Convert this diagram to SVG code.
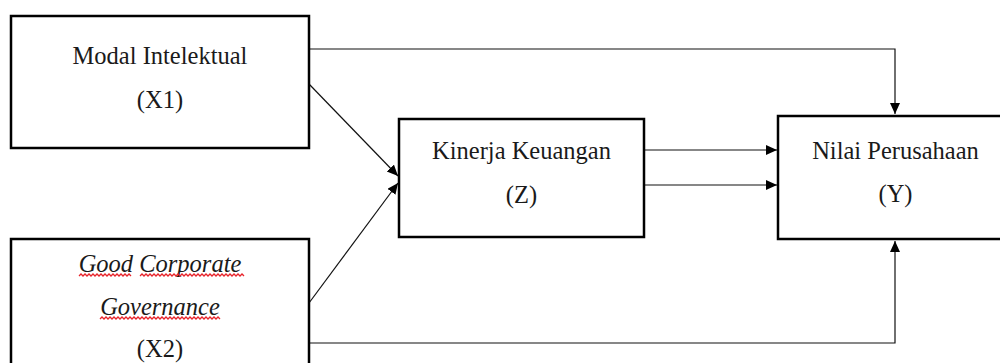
<svg xmlns="http://www.w3.org/2000/svg" width="1000" height="363" viewBox="0 0 1000 363">
<style>
.box{fill:#fff;stroke:#000;stroke-width:2.5}
.t{font-family:'Liberation Serif','Times New Roman',Times,serif;font-size:24.5px;fill:#1a1a1a;text-anchor:middle}
.i{font-style:italic}
.c{fill:none;stroke:#111;stroke-width:1.2}
.w{fill:none;stroke:#e8232a;stroke-width:1.3}
</style>
<defs>
<marker id="ah" markerUnits="userSpaceOnUse" markerWidth="12" markerHeight="11" refX="11" refY="5" orient="auto">
<path d="M0,0 L11,5 L0,10 Z" fill="#000"/>
</marker>
</defs>
<rect width="1000" height="363" fill="#fff"/>
<g id="connectors">
<path class="c" d="M309,49 H895 V114" marker-end="url(#ah)"/>
<path class="c" d="M309,84 L398,176" marker-end="url(#ah)"/>
<path class="c" d="M309,303 L398,183" marker-end="url(#ah)"/>
<path class="c" d="M644,150 H777" marker-end="url(#ah)"/>
<path class="c" d="M644,185 H777" marker-end="url(#ah)"/>
<path class="c" d="M309,343 H895 V241" marker-end="url(#ah)"/>
</g>
<g id="x1">
<rect class="box" x="11" y="16" width="298" height="132"/>
<text class="t" x="160" y="64">Modal Intelektual</text>
<text class="t" x="160" y="108">(X1)</text>
</g>
<g id="z">
<rect class="box" x="399" y="119" width="245" height="118"/>
<text class="t" x="521.5" y="159">Kinerja Keuangan</text>
<text class="t" x="521.5" y="203">(Z)</text>
</g>
<g id="y">
<rect class="box" x="778" y="116" width="240" height="123"/>
<text class="t" x="895.5" y="159">Nilai Perusahaan</text>
<text class="t" x="895.5" y="202">(Y)</text>
</g>
<g id="x2">
<rect class="box" x="11" y="239" width="298" height="140"/>
<text class="t i" x="160" y="271.5">Good Corporate</text>
<text class="t i" x="160" y="315">Governance</text>
<text class="t" x="160" y="357">(X2)</text>
<path class="w" d="M79,276 l2,-2 2,2 2,-2 2,2 2,-2 2,2 2,-2 2,2 2,-2 2,2 2,-2 2,2 2,-2 2,2 2,-2 2,2 2,-2 2,2 2,-2 2,2 2,-2 2,2 2,-2 2,2 2,-2 2,2"/>
<path class="w" d="M140,276 l2,-2 2,2 2,-2 2,2 2,-2 2,2 2,-2 2,2 2,-2 2,2 2,-2 2,2 2,-2 2,2 2,-2 2,2 2,-2 2,2 2,-2 2,2 2,-2 2,2 2,-2 2,2 2,-2 2,2 2,-2 2,2 2,-2 2,2 2,-2 2,2 2,-2 2,2 2,-2 2,2 2,-2 2,2 2,-2 2,2 2,-2 2,2 2,-2 2,2 2,-2 2,2 2,-2 2,2 2,-2 2,2 2,-2 2,2"/>
<path class="w" d="M100,319 l2,-2 2,2 2,-2 2,2 2,-2 2,2 2,-2 2,2 2,-2 2,2 2,-2 2,2 2,-2 2,2 2,-2 2,2 2,-2 2,2 2,-2 2,2 2,-2 2,2 2,-2 2,2 2,-2 2,2 2,-2 2,2 2,-2 2,2 2,-2 2,2 2,-2 2,2 2,-2 2,2 2,-2 2,2 2,-2 2,2 2,-2 2,2 2,-2 2,2 2,-2 2,2 2,-2 2,2 2,-2 2,2 2,-2 2,2 2,-2 2,2 2,-2 2,2 2,-2 2,2 2,-2 2,2"/>
</g>
</svg>
